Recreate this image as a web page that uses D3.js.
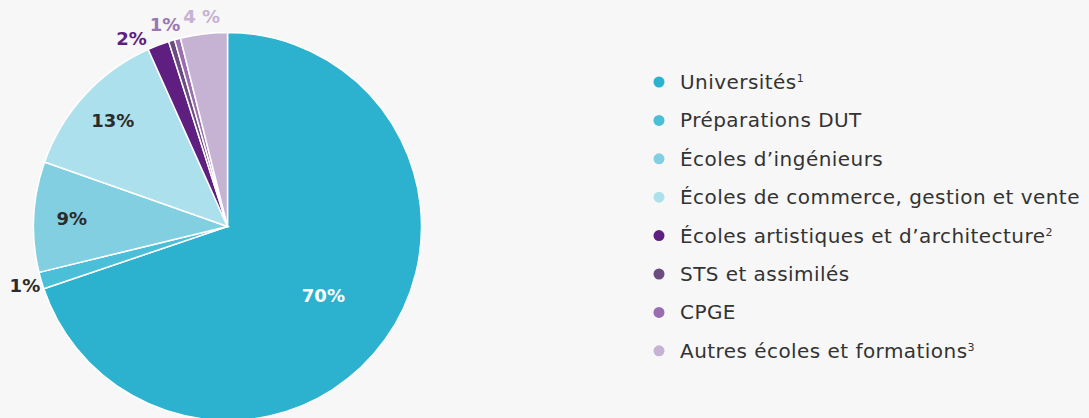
<!DOCTYPE html>
<html>
<head>
<meta charset="utf-8">
<script src="https://cdn.jsdelivr.net/npm/d3@7"></script>
<style>
	html, body { margin: 0; padding: 0; background: #f7f7f7; }
	svg { display: block; font-family: 'DejaVu Sans', sans-serif; }
</style>
</head>
<body>
<div id="chart"></div>
<script>
// categories and shares (%), clockwise from 12 o'clock
const categories = [
	'Universités',
	'Préparations DUT',
	'Écoles d’ingénieurs',
	'Écoles de commerce, gestion et vente',
	'Écoles artistiques et d’architecture',
	'STS et assimilés',
	'CPGE',
	'Autres écoles et formations',
];
const notes = ['1', '', '', '', '2', '', '', '3'];
const shares = [69.8, 1.4, 9.2, 12.9, 1.8, 0.5, 0.5, 3.9];
const colors = ['#2cb2cf', '#4bbed8', '#82cfe1', '#ade0ed', '#5f1f80', '#6a4c7f', '#9a6cb0', '#c6b2d3'];
// labels shown on the pie: [first slice, last slice, text, where]
const pieLabels = [
	[0, 0, '70%', 'in'],
	[1, 1, '1%', 'out'],
	[2, 2, '9%', 'in'],
	[3, 3, '13%', 'in'],
	[4, 4, '2%', 'out'],
	[5, 6, '1%', 'out'],
	[7, 7, '4 %', 'out'],
];

const width = 1089, height = 418;
const cx = 227.5, cy = 226.5, R = 194;
const outR = 211;

const svg = d3.select('#chart').append('svg')
	.attr('width', width)
	.attr('height', height)
	.style('background', '#f7f7f7');

const pie = d3.pie().sort(null).value((d) => d)(shares);
const arc = d3.arc().innerRadius(0).outerRadius(R);

const g = svg.append('g').attr('transform', `translate(${cx},${cy})`);

g.selectAll('path')
	.data(pie)
	.enter()
	.append('path')
	.attr('d', arc)
	.attr('fill', (d, i) => colors[i])
	.attr('stroke', '#fff')
	.attr('stroke-width', 1.5);

const labelColor = (i, where) => {
	if (where === 'in') return i === 0 ? '#fff' : '#2b2b2b';
	if (i === 4) return '#5f1f80';
	if (i === 5) return '#9a77b4';
	if (i === 7) return '#c6b2d3';
	return '#2b2b2b';
};

const labels = g.selectAll('text.lbl')
	.data(pieLabels)
	.enter()
	.append('text')
	.attr('class', 'lbl')
	.each(function (d) {
		const mid = (pie[d[0]].startAngle + pie[d[1]].endAngle) / 2;
		let r;
		if (d[3] === 'out') r = outR;
		else r = d[0] === 0 ? 118 : 156;
		d.x = r * Math.sin(mid);
		d.y = -r * Math.cos(mid);
	})
	.attr('text-anchor', 'middle')
	.attr('dy', '0.35em')
	.attr('font-size', 18)
	.attr('font-weight', 600)
	.attr('fill', (d) => labelColor(d[0], d[3]))
	.text((d) => d[2]);

// push the crowded labels at the top apart, sliding them along the circle
const gap = 3;
const topLabels = [];
labels.each(function (d) {
	d.w = this.getComputedTextLength();
	if (d[3] === 'out' && d.y < 0 && Math.abs(d.x) < 120) topLabels.push(d);
});
topLabels.sort((a, b) => b.x - a.x);
for (let k = 1; k < topLabels.length; k++) {
	const prevLeft = topLabels[k - 1].x - topLabels[k - 1].w / 2;
	if (topLabels[k].x + topLabels[k].w / 2 > prevLeft - gap) {
		topLabels[k].x = prevLeft - gap - topLabels[k].w / 2;
		topLabels[k].y = -Math.sqrt(outR * outR - topLabels[k].x * topLabels[k].x);
	}
}
labels.attr('x', (d) => d.x).attr('y', (d) => d.y);

// legend
const legend = svg.append('g').attr('transform', 'translate(659,82)');
const row = legend.selectAll('g')
	.data(categories)
	.enter()
	.append('g')
	.attr('transform', (d, i) => `translate(0,${i * 38.4})`);

row.append('circle')
	.attr('r', 5.5)
	.attr('fill', (d, i) => colors[i]);

const txt = row.append('text')
	.attr('x', 21)
	.attr('dy', '0.35em')
	.attr('font-size', 20)
	.attr('letter-spacing', 0.45)
	.attr('fill', '#333');
txt.append('tspan').text((d) => d);
txt.append('tspan')
	.attr('dy', -7)
	.attr('font-size', 11)
	.attr('letter-spacing', 0)
	.text((d, i) => notes[i]);
</script>
</body>
</html>
